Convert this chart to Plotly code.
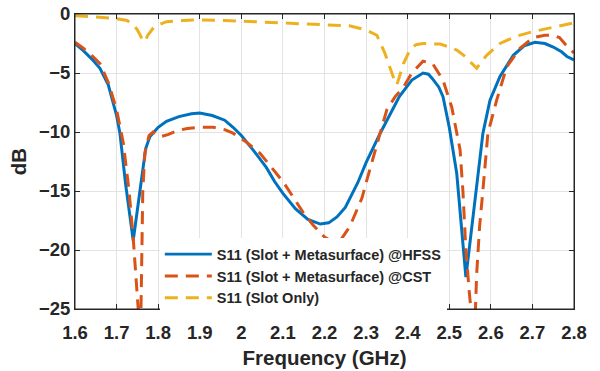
import plotly.graph_objects as go

hfss_f = [1.6, 1.62, 1.64, 1.66, 1.68, 1.69, 1.70, 1.708, 1.722, 1.74, 1.758, 1.77, 1.78, 1.80, 1.82, 1.85, 1.88, 1.90, 1.93, 1.96, 1.98, 2.0, 2.03, 2.06, 2.08, 2.1, 2.13, 2.16, 2.19, 2.21, 2.23, 2.25, 2.28, 2.30, 2.334, 2.36, 2.38, 2.41, 2.437, 2.45, 2.46, 2.475, 2.485, 2.50, 2.518, 2.54, 2.567, 2.581, 2.598, 2.622, 2.654, 2.68, 2.706, 2.73, 2.75, 2.77, 2.783, 2.8]
hfss_db = [-2.5, -3.1, -3.8, -4.6, -6.0, -7.3, -8.6, -10.1, -14.5, -19.2, -14.5, -11.4, -10.4, -9.6, -9.1, -8.7, -8.45, -8.4, -8.6, -9.0, -9.6, -10.3, -11.6, -13.0, -14.2, -15.2, -16.5, -17.4, -17.8, -17.7, -17.2, -16.4, -14.3, -12.6, -10.1, -8.3, -7.0, -5.6, -5.0, -5.1, -5.5, -6.2, -7.0, -9.6, -13.5, -22.3, -14.5, -10.1, -7.3, -5.3, -3.5, -2.7, -2.4, -2.5, -2.8, -3.2, -3.6, -3.9]

cst_f = [1.6, 1.62, 1.64, 1.66, 1.68, 1.70, 1.716, 1.73, 1.74, 1.748, 1.753, 1.757, 1.760, 1.763, 1.768, 1.778, 1.788, 1.805, 1.825, 1.845, 1.87, 1.90, 1.932, 1.96, 1.98, 2.01, 2.045, 2.07, 2.1, 2.13, 2.15, 2.173, 2.2, 2.22, 2.24, 2.261, 2.29, 2.30, 2.32, 2.35, 2.37, 2.39, 2.41, 2.437, 2.46, 2.485, 2.506, 2.526, 2.533, 2.54, 2.548, 2.555, 2.56, 2.566, 2.573, 2.58, 2.593, 2.614, 2.638, 2.67, 2.702, 2.73, 2.75, 2.765, 2.78, 2.8]
cst_db = [-2.4, -2.9, -3.5, -4.2, -5.8, -8.1, -10.9, -15.0, -19.0, -22.5, -25.5, -29.0, -22.0, -15.0, -11.8, -10.3, -10.0, -10.4, -10.2, -9.9, -9.7, -9.6, -9.6, -9.8, -10.1, -10.8, -11.8, -12.9, -14.2, -15.8, -16.9, -17.9, -18.9, -19.3, -19.1, -18.0, -15.6, -14.3, -11.8, -8.1, -7.0, -6.2, -5.0, -4.0, -4.2, -5.6, -7.9, -11.5, -15.1, -20.0, -23.5, -26.5, -28.0, -22.0, -18.0, -15.3, -10.1, -7.3, -4.5, -2.9, -2.0, -1.8, -1.8, -2.0, -2.6, -3.3]

slot_f = [1.6, 1.65, 1.69, 1.725, 1.74, 1.75, 1.76, 1.768, 1.775, 1.79, 1.82, 1.86, 1.9, 1.96, 2.02, 2.08, 2.125, 2.2, 2.26, 2.30, 2.326, 2.345, 2.365, 2.374, 2.39, 2.405, 2.42, 2.437, 2.46, 2.478, 2.50, 2.518, 2.535, 2.55, 2.566, 2.578, 2.59, 2.622, 2.66, 2.70, 2.75, 2.79, 2.8]
slot_db = [-0.15, -0.25, -0.35, -0.55, -0.9, -1.35, -2.0, -2.35, -1.8, -1.1, -0.65, -0.55, -0.5, -0.55, -0.65, -0.75, -0.8, -0.9, -1.0, -1.35, -1.8, -3.3, -5.3, -6.0, -4.2, -3.05, -2.6, -2.5, -2.5, -2.55, -2.8, -3.05, -3.5, -4.05, -4.6, -4.0, -3.5, -2.5, -1.9, -1.5, -1.1, -0.8, -0.75]

names = ["S11 (Slot + Metasurface) @HFSS", "S11 (Slot + Metasurface) @CST", "S11 (Slot Only)"]
x_ticks = [1.6, 1.7, 1.8, 1.9, 2.0, 2.1, 2.2, 2.3, 2.4, 2.5, 2.6, 2.7, 2.8]
x_tick_text = ["1.6", "1.7", "1.8", "1.9", "2", "2.1", "2.2", "2.3", "2.4", "2.5", "2.6", "2.7", "2.8"]
y_ticks = [0, -5, -10, -15, -20, -25]

FONT = "Liberation Sans"
INK = "#262626"

fig = go.Figure()
fig.add_trace(go.Scatter(x=hfss_f, y=hfss_db, mode="lines", name=names[0],
                         line=dict(color="#0072BD", width=3)))
fig.add_trace(go.Scatter(x=cst_f, y=cst_db, mode="lines", name=names[1],
                         line=dict(color="#D95319", width=3, dash="13px,8px")))
fig.add_trace(go.Scatter(x=slot_f, y=slot_db, mode="lines", name=names[2],
                         line=dict(color="#EDB120", width=3, dash="13px,8px")))

axis_common = dict(showgrid=True, gridcolor="#e3e3e3", gridwidth=1,
                   showline=True, linecolor=INK, linewidth=1, mirror="ticks",
                   ticks="inside", ticklen=5, tickcolor=INK, zeroline=False,
                   automargin=False,
                   tickfont=dict(family=FONT, size=18.5, color=INK, weight="bold"))

fig.update_xaxes(range=[1.6, 2.8], tickvals=x_ticks, ticktext=x_tick_text,
                 ticklabelstandoff=7,
                 title=dict(text="Frequency (GHz)", standoff=8,
                            font=dict(family=FONT, size=20.5, color=INK, weight="bold")),
                 **axis_common)
fig.update_yaxes(range=[-25, 0], tickvals=y_ticks,
                 title=dict(text="dB", standoff=6,
                            font=dict(family=FONT, size=20.5, color=INK, weight="bold")),
                 **axis_common)

fig.update_layout(
    width=600, height=371,
    margin=dict(l=75, r=26, t=14, b=62),
    paper_bgcolor="white", plot_bgcolor="white",
    font=dict(family=FONT, color=INK, weight="bold"),
    legend=dict(x=0.17, y=0.24, xanchor="left", yanchor="top",
                bgcolor="white", borderwidth=0, itemwidth=47,
                font=dict(family=FONT, size=14.5, color=INK, weight="bold"),
                tracegroupgap=0),
    shapes=[dict(type="rect", xref="paper", yref="paper", x0=0, x1=1, y0=0, y1=1,
                 line=dict(color=INK, width=1), fillcolor="rgba(0,0,0,0)", layer="above")],
)

fig.write_html("out.html")
